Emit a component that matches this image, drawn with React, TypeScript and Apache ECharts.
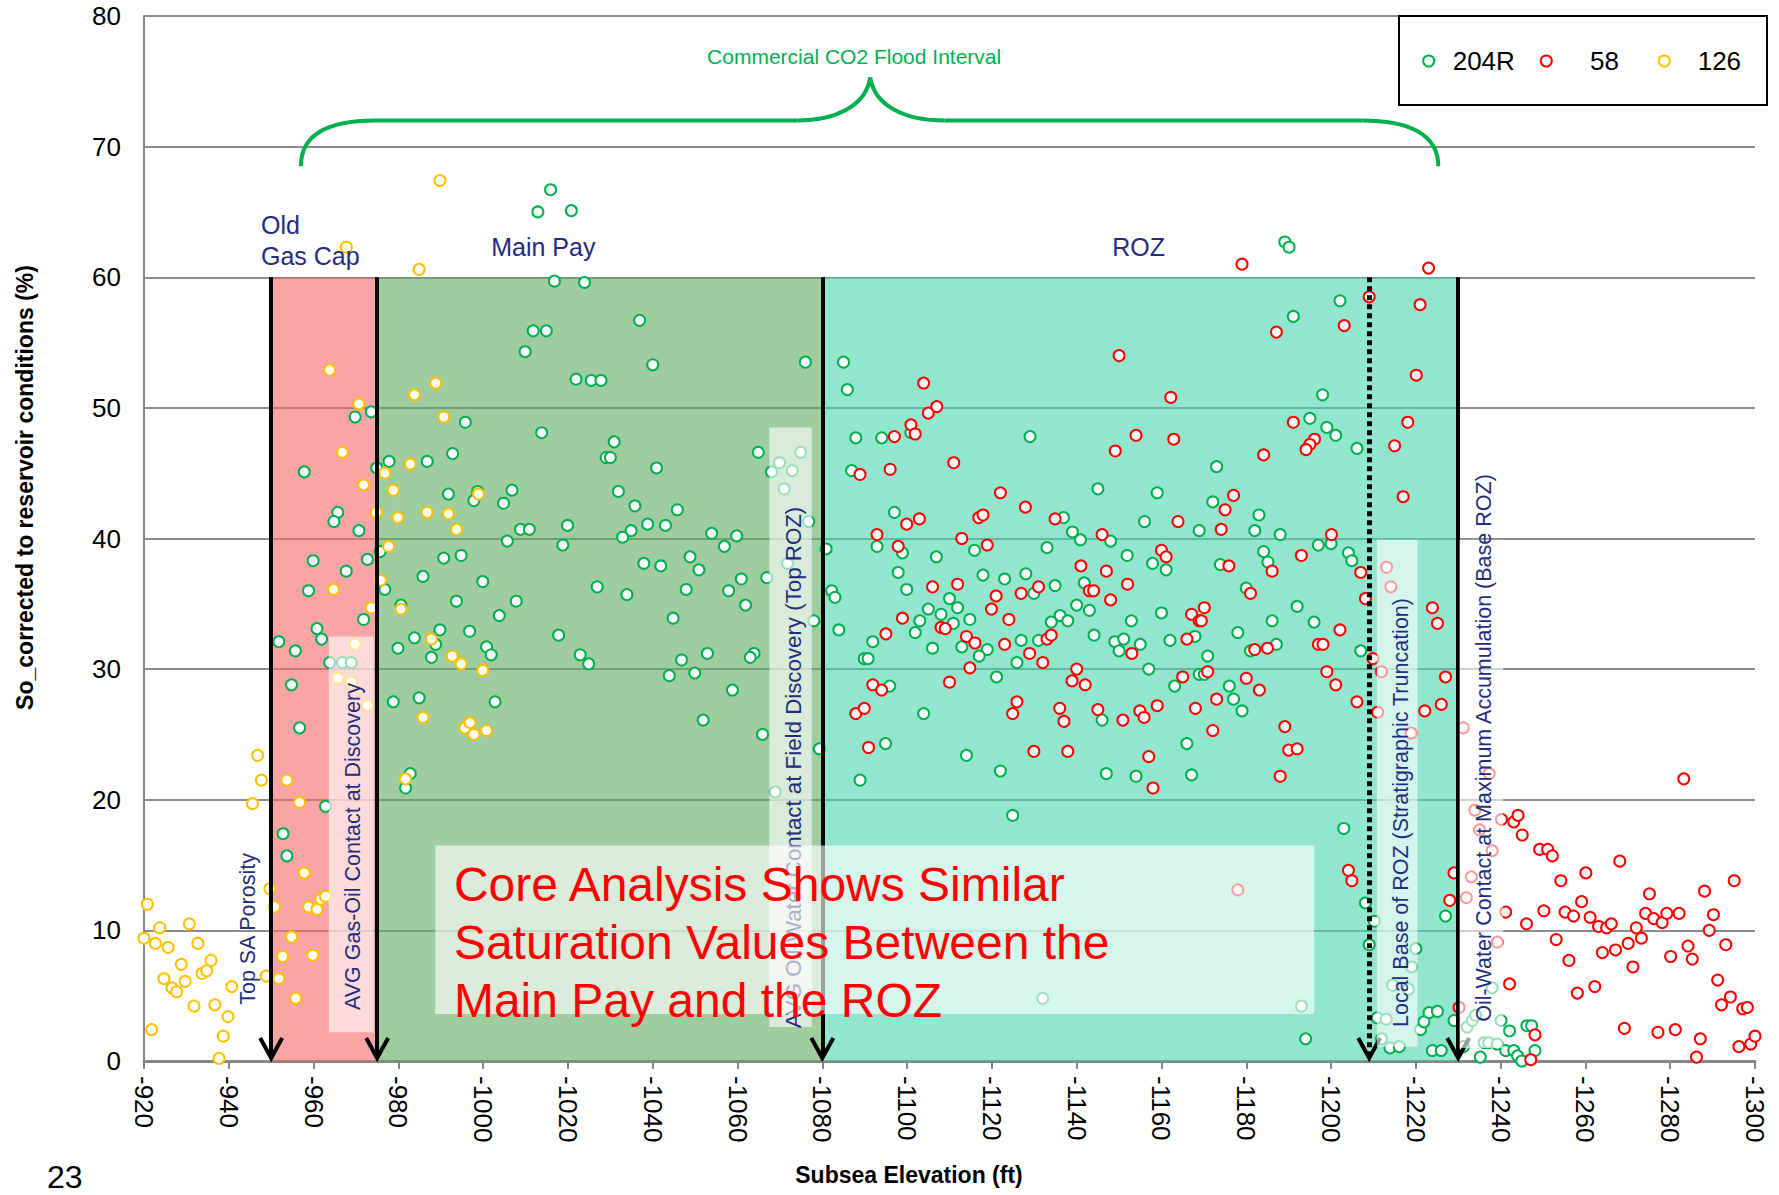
import React, { useEffect, useRef } from "react";
import * as echarts from "echarts";

const FONT = '"Liberation Sans", Arial, Helvetica, sans-serif';
const NAVY = "#232C7D";
const GREEN = "#00B050";

const seriesNames = ["204R", "58", "126"];
const seriesColors = ["#00B050", "#FF0000", "#FFC000"];

// [subsea elevation (ft), So corrected (%)]
const well204R: number[][] = [
  [-1015.9, 66.7], [-1012.9, 65.0], [-1020.8, 65.1], [-1016.8, 59.7], [-1023.9, 59.6], [-1011.8, 55.9], [-1014.9, 55.9],
  [-1009.9, 54.3], [-1021.9, 52.2], [-1025.5, 52.1], [-1027.8, 52.1],
  [-1036.9, 56.7], [-1040.0, 53.3], [-1076.0, 53.5], [-1085.0, 53.5], [-1085.9, 51.4],
  [-1189.1, 62.7], [-1190.1, 62.3], [-1202.1, 58.2], [-1191.1, 57.0], [-1198.0, 51.0],
  [-969.8, 49.3], [-973.6, 49.7], [-995.8, 48.9], [-1013.8, 48.1], [-992.8, 46.5], [-957.8, 45.1], [-974.9, 45.4],
  [-977.8, 45.9], [-986.8, 45.9], [-991.8, 43.4], [-997.8, 42.9], [-998.7, 43.6], [-1004.8, 42.7], [-1006.8, 43.7],
  [-965.7, 42.0], [-964.8, 41.3], [-970.7, 40.6], [-1008.8, 40.7], [-1010.9, 40.7], [-1019.9, 41.0], [-1005.7, 39.8],
  [-1018.8, 39.5], [-975.7, 39.0], [-959.9, 38.3], [-972.7, 38.4], [-990.7, 38.5], [-994.8, 38.7], [-967.7, 37.5],
  [-985.8, 37.1], [-999.9, 36.7], [-1026.9, 36.3], [-958.8, 36.0], [-976.8, 36.1], [-993.7, 35.2], [-1007.8, 35.2],
  [-980.6, 34.9], [-1003.8, 34.1], [-971.8, 33.8], [-960.8, 33.1], [-961.9, 32.3], [-951.8, 32.1], [-955.7, 31.4],
  [-989.8, 33.0], [-996.8, 32.9], [-983.8, 32.4], [-988.8, 31.9], [-979.9, 31.6], [-1000.8, 31.7], [-1001.9, 31.1],
  [-1017.8, 32.6], [-1022.9, 31.1], [-1024.9, 30.4], [-987.8, 30.9], [-963.8, 30.5], [-966.8, 30.5], [-968.9, 30.5],
  [-954.8, 28.8], [-978.8, 27.5], [-984.9, 27.8], [-1002.8, 27.5], [-956.7, 25.5], [-982.8, 22.0], [-981.7, 20.9],
  [-962.8, 19.5], [-952.8, 17.4], [-953.7, 15.7],
  [-1030.9, 47.4], [-1029.0, 46.2], [-1030.0, 46.2], [-1064.9, 46.6], [-1040.9, 45.4], [-1068.0, 45.1], [-1069.9, 45.8],
  [-1072.9, 45.2], [-1074.9, 46.6], [-1071.0, 43.8], [-1031.9, 43.6], [-1035.8, 42.5], [-1045.8, 42.2], [-1038.8, 41.1],
  [-1043.0, 41.0], [-1034.9, 40.6], [-1032.9, 40.1], [-1053.9, 40.4], [-1059.8, 40.2], [-1076.8, 41.3], [-1056.9, 39.4],
  [-1048.8, 38.6], [-1037.9, 38.1], [-1041.9, 37.9], [-1050.9, 37.6], [-1071.8, 38.1], [-1066.9, 37.0], [-1060.9, 36.9],
  [-1080.9, 39.2], [-1033.9, 35.7], [-1047.9, 36.1], [-1057.9, 36.0], [-1061.9, 34.9], [-1044.8, 33.9], [-1078.0, 33.7],
  [-1052.9, 31.2], [-1046.8, 30.7], [-1063.9, 31.2], [-1063.0, 30.9], [-1043.9, 29.5], [-1049.9, 29.7], [-1058.8, 28.4],
  [-1051.9, 26.1], [-1065.9, 25.0], [-1079.3, 23.9], [-1068.9, 20.6],
  [-1087.9, 47.7], [-1094.0, 47.7], [-1100.9, 48.1], [-1129.0, 47.8], [-1086.9, 45.2], [-1145.0, 43.8], [-1159.0, 43.5],
  [-1097.0, 42.0], [-1136.9, 41.6], [-1156.0, 41.3], [-1139.0, 40.5], [-1140.9, 39.9], [-1148.0, 39.8], [-1168.9, 40.6],
  [-1092.9, 39.4], [-1098.9, 38.9], [-1115.9, 39.1], [-1133.0, 39.3], [-1106.9, 38.6], [-1151.9, 38.7], [-1157.9, 38.1],
  [-1161.1, 37.6], [-1097.9, 37.4], [-1117.9, 37.2], [-1128.0, 37.3], [-1123.0, 36.9], [-1134.9, 36.4], [-1141.8, 36.6],
  [-1099.9, 36.1], [-1129.9, 35.8], [-1082.2, 36.0], [-1083.0, 35.5], [-1110.0, 35.4], [-1111.9, 34.7], [-1105.0, 34.6],
  [-1108.0, 34.2], [-1103.0, 33.7], [-1110.9, 33.5], [-1114.8, 33.8], [-1140.0, 34.9], [-1143.0, 34.5], [-1136.1, 34.1],
  [-1134.0, 33.6], [-1137.9, 33.7], [-1160.0, 34.3], [-1152.9, 33.7], [-1083.9, 33.0], [-1091.9, 32.1], [-1101.9, 32.8],
  [-1144.1, 32.6], [-1162.0, 32.2], [-1167.9, 32.5], [-1106.0, 31.6], [-1112.9, 31.7], [-1118.9, 31.5], [-1117.0, 31.0],
  [-1126.9, 32.2], [-1131.0, 32.2], [-1149.0, 32.1], [-1151.1, 32.3], [-1150.0, 31.4], [-1155.0, 31.9], [-1089.9, 30.8],
  [-1090.8, 30.8], [-1125.9, 30.5], [-1157.0, 30.0], [-1121.1, 29.4], [-1168.9, 29.6], [-1095.9, 28.7], [-1163.1, 28.7],
  [-1103.9, 26.6], [-1146.0, 26.1], [-1094.9, 24.3], [-1166.0, 24.3], [-1114.0, 23.4], [-1122.0, 22.2], [-1088.9, 21.5],
  [-1147.0, 22.0], [-1154.0, 21.8], [-1167.1, 21.9],
  [-1195.0, 49.2], [-1199.0, 48.5], [-1201.1, 47.9], [-1206.1, 46.9], [-1173.0, 45.5], [-1172.1, 42.8], [-1183.0, 41.8],
  [-1182.0, 40.6], [-1188.0, 40.3], [-1197.0, 39.5], [-1200.0, 39.6], [-1184.1, 39.0], [-1185.1, 38.2], [-1204.1, 38.9],
  [-1204.9, 38.3], [-1173.9, 38.0], [-1180.0, 36.2], [-1192.0, 34.8], [-1186.1, 33.7], [-1196.0, 33.6], [-1178.0, 32.8],
  [-1187.1, 31.9], [-1181.0, 31.4], [-1170.9, 31.0], [-1207.0, 31.4], [-1170.1, 29.6], [-1176.0, 28.7], [-1177.0, 27.7],
  [-1179.0, 26.8],
  [-1203.0, 17.8], [-1208.1, 12.1], [-1210.2, 10.7], [-1209.0, 8.9], [-1227.0, 11.1], [-1220.0, 8.6], [-1219.0, 7.2],
  [-1218.2, 5.5], [-1214.5, 5.8], [-1238.0, 5.6], [-1193.0, 4.2], [-1194.0, 1.7], [-1210.9, 3.3], [-1213.0, 3.2],
  [-1211.9, 1.7], [-1213.9, 1.0], [-1216.1, 1.1], [-1221.1, 2.4], [-1221.9, 3.0], [-1223.1, 3.7], [-1225.1, 3.8],
  [-1223.9, 0.8], [-1226.0, 0.8], [-1229.0, 3.1], [-1231.2, 1.1], [-1232.1, 2.6], [-1233.3, 3.1], [-1234.1, 3.5],
  [-1235.2, 0.3], [-1236.1, 1.4], [-1237.2, 1.4], [-1239.2, 1.3], [-1240.1, 3.1], [-1241.2, 0.8], [-1243.1, 0.8],
  [-1242.1, 2.3], [-1244.0, 0.4], [-1245.0, 0.0], [-1246.2, 2.7], [-1247.3, 2.7], [-1248.1, 0.8],
  [-1124.9, 18.8], [-1132.0, 4.8],
];

const well58: number[][] = [
  [-1103.9, 51.9], [-1150.0, 54.0], [-1162.2, 50.8],
  [-1179.0, 61.0], [-1223.0, 60.7], [-1209.0, 58.5], [-1221.0, 57.9], [-1187.1, 55.8], [-1203.1, 56.3], [-1220.1, 52.5],
  [-1105.0, 49.6], [-1107.0, 50.1], [-1100.9, 48.7], [-1101.9, 48.0], [-1097.0, 47.8], [-1154.0, 47.9], [-1162.9, 47.6],
  [-1149.1, 46.7], [-1111.0, 45.8], [-1096.0, 45.3], [-1088.9, 44.9], [-1122.0, 43.5], [-1127.9, 42.4], [-1099.9, 41.1],
  [-1102.9, 41.5], [-1116.9, 41.6], [-1117.9, 41.8], [-1134.9, 41.5], [-1163.9, 41.3], [-1092.9, 40.3], [-1112.9, 40.0],
  [-1118.9, 39.5], [-1146.0, 40.3], [-1097.9, 39.4], [-1160.0, 39.1], [-1161.1, 38.6], [-1141.0, 37.9], [-1147.0, 37.5],
  [-1106.0, 36.3], [-1111.9, 36.5], [-1131.0, 36.3], [-1126.9, 35.8], [-1121.0, 35.6], [-1143.0, 36.0], [-1144.0, 36.0],
  [-1152.0, 36.5], [-1148.0, 35.3], [-1119.9, 34.6], [-1098.9, 33.9], [-1124.0, 33.8], [-1108.0, 33.2], [-1109.0, 33.1],
  [-1167.1, 34.2], [-1168.9, 33.7], [-1095.0, 32.7], [-1114.0, 32.5], [-1116.0, 32.0], [-1123.0, 31.9], [-1133.0, 32.3],
  [-1134.0, 32.6], [-1166.0, 32.3], [-1128.9, 31.2], [-1132.0, 30.5], [-1153.0, 31.2], [-1114.8, 30.1], [-1140.0, 30.0],
  [-1138.9, 29.1], [-1142.0, 28.8], [-1165.0, 29.4], [-1110.0, 29.0], [-1091.9, 28.8], [-1094.0, 28.4], [-1125.9, 27.5],
  [-1124.9, 26.6], [-1136.0, 27.0], [-1137.0, 26.0], [-1145.0, 26.9], [-1150.9, 26.1], [-1154.9, 26.8], [-1155.9, 26.3],
  [-1159.0, 27.2], [-1168.0, 27.0], [-1087.9, 26.6], [-1089.9, 27.0], [-1090.9, 24.0], [-1129.9, 23.7], [-1137.9, 23.7],
  [-1157.0, 23.3], [-1158.0, 20.9],
  [-1191.1, 48.9], [-1218.1, 48.9], [-1196.1, 47.6], [-1195.0, 47.2], [-1194.1, 46.8], [-1215.0, 47.1], [-1184.1, 46.4],
  [-1177.0, 43.3], [-1175.0, 42.2], [-1217.0, 43.2], [-1174.1, 40.7], [-1200.1, 40.3], [-1193.0, 38.7], [-1175.9, 37.9],
  [-1186.1, 37.5], [-1207.0, 37.4], [-1181.0, 35.8], [-1208.1, 35.4], [-1170.1, 34.7], [-1169.4, 33.7], [-1202.1, 33.0],
  [-1223.9, 34.7], [-1225.1, 33.5], [-1182.0, 31.5], [-1185.0, 31.6], [-1197.0, 31.9], [-1198.1, 31.9], [-1209.9, 30.8],
  [-1170.9, 29.8], [-1199.0, 29.8], [-1180.0, 29.3], [-1201.1, 28.8], [-1183.1, 28.4], [-1173.0, 27.7], [-1206.1, 27.5],
  [-1227.0, 29.4], [-1226.0, 27.3], [-1222.1, 26.8], [-1172.1, 25.3], [-1189.1, 25.6], [-1190.0, 23.8], [-1192.0, 23.9],
  [-1188.0, 21.8], [-1283.2, 21.6], [-1213.1, 37.8], [-1214.1, 36.3], [-1211.9, 29.8], [-1211.0, 26.7], [-1218.9, 25.1],
  [-1231.2, 25.5], [-1237.3, 22.0],
  [-1240.2, 18.5], [-1243.1, 18.3], [-1244.1, 18.8], [-1245.1, 17.3], [-1249.2, 16.2], [-1251.1, 16.2], [-1252.2, 15.7],
  [-1268.1, 15.3], [-1254.2, 13.8], [-1260.1, 14.4], [-1275.1, 12.8], [-1288.1, 13.0], [-1295.1, 13.8], [-1241.2, 11.4],
  [-1246.1, 10.5], [-1250.2, 11.5], [-1255.2, 11.4], [-1257.2, 11.1], [-1259.1, 12.2], [-1261.1, 11.0], [-1263.1, 10.3],
  [-1265.0, 10.2], [-1266.1, 10.5], [-1272.0, 10.2], [-1273.2, 9.4], [-1274.2, 11.3], [-1276.1, 10.9], [-1278.1, 10.6],
  [-1279.2, 11.3], [-1282.1, 11.3], [-1253.1, 9.3], [-1264.0, 8.3], [-1267.1, 8.5], [-1270.1, 9.0], [-1256.1, 7.7],
  [-1271.2, 7.2], [-1280.1, 8.0], [-1284.2, 8.8], [-1285.2, 7.8], [-1290.2, 11.2], [-1289.2, 10.0], [-1293.1, 8.9],
  [-1291.2, 6.2], [-1258.1, 5.2], [-1262.2, 5.7], [-1242.1, 5.9], [-1292.1, 4.3], [-1294.2, 4.9], [-1297.1, 4.0],
  [-1298.2, 4.1], [-1269.2, 2.5], [-1277.1, 2.2], [-1281.2, 2.4], [-1287.1, 1.7], [-1286.2, 0.3], [-1296.2, 1.1],
  [-1299.0, 1.3], [-1300.0, 1.9], [-1248.1, 2.0], [-1247.1, 0.1], [-1204.1, 14.6], [-1204.9, 13.8], [-1229.0, 14.4],
  [-1228.0, 12.3], [-1230.2, 4.1], [-1233.9, 19.2], [-1235.0, 17.7], [-1238.0, 16.1], [-1233.1, 14.1], [-1231.9, 12.5],
  [-1239.2, 9.1], [-1178.0, 13.1],
];

const well126: number[][] = [
  [-989.8, 67.4], [-967.7, 62.3], [-984.9, 60.6], [-963.8, 52.9], [-988.8, 51.9], [-983.8, 51.0],
  [-970.7, 50.3], [-990.7, 49.3], [-966.8, 46.6], [-976.8, 45.0], [-982.8, 45.7], [-971.8, 44.1], [-978.8, 43.7],
  [-998.9, 43.4], [-974.8, 42.0], [-979.9, 41.6], [-986.8, 42.0], [-991.8, 41.9], [-993.7, 40.7], [-977.7, 39.4],
  [-975.8, 36.8], [-964.7, 36.1], [-980.6, 34.6], [-973.6, 34.7], [-969.8, 31.9], [-987.8, 32.3], [-992.7, 31.0],
  [-994.8, 30.4], [-999.9, 29.9], [-965.7, 29.3], [-968.9, 29.0], [-972.7, 27.2], [-985.8, 26.3], [-995.7, 25.5],
  [-996.9, 25.9], [-997.8, 25.0], [-1000.8, 25.3], [-946.8, 23.4], [-947.7, 21.5], [-953.7, 21.5], [-981.7, 21.6],
  [-945.6, 19.7], [-956.7, 19.8], [-957.8, 14.4], [-949.7, 13.2], [-950.8, 11.8], [-958.8, 11.8], [-960.8, 11.6],
  [-961.7, 12.4], [-962.8, 12.6], [-920.8, 12.0], [-923.7, 10.2], [-930.7, 10.5], [-920.0, 9.4], [-922.7, 9.0],
  [-925.7, 8.7], [-932.7, 9.0], [-954.8, 9.5], [-952.7, 8.0], [-959.8, 8.1], [-928.8, 7.4], [-935.8, 7.7],
  [-924.7, 6.3], [-929.7, 6.1], [-933.7, 6.7], [-934.8, 6.9], [-926.6, 5.6], [-927.7, 5.3], [-940.7, 5.7],
  [-948.8, 6.5], [-951.8, 6.3], [-931.8, 4.2], [-936.7, 4.3], [-955.8, 4.8], [-939.8, 3.4], [-921.8, 2.4],
  [-938.7, 1.9], [-937.7, 0.2],
];

const wellData = [well204R, well58, well126];

// Zone annotations (axis values)
const zoneTop = 60;
const zones = [
  { from: -950, to: -975, color: "rgba(247,105,105,0.6)" },
  { from: -975, to: -1080, color: "rgba(97,172,97,0.6)" },
  { from: -1080, to: -1230, color: "rgba(72,213,172,0.6)" },
];
const solidMarkers = [-950, -975, -1080, -1230];
const dottedMarker = -1209;

const verticalNotes = [
  { text: "Top SA Porosity", x: -944.5, y: 4.3, size: 21.5 },
  { text: "AVG Gas-Oil Contact at Discovery", x: -969.3, y: 3.9, size: 21.5 },
  { text: "AVG Oil-Water Contact at Field Discovery (Top ROZ)", x: -1073.2, y: 2.5, size: 22.3 },
  { text: "Local Base of ROZ (Stratigraphic Truncation)", x: -1216.4, y: 2.6, size: 21.5 },
  { text: "Oil-Water Contact at Maximum Accumulation (Base ROZ)", x: -1236.1, y: 3.0, size: 21.5 },
];
const noteBoxes = [
  [-963.6, -974.2, 2.2, 32.5],
  [-1067.5, -1077.5, 2.6, 48.5],
  [-1210.8, -1220.4, 1.1, 39.9],
  [-1230.3, -1240.6, 1.0, 39.9],
];
const coreBox = [-988.7, -1196.0, 3.6, 16.5];
const coreLines = [
  { text: "Core Analysis Shows Similar", y: 13.5 },
  { text: "Saturation Values Between the", y: 9.1 },
  { text: "Main Pay and the ROZ", y: 4.6 },
];
const coreTextX = -993.1;
const zoneLabels = [
  { text: "Old", x: -947.6, y: 64.0 },
  { text: "Gas Cap", x: -947.6, y: 61.6 },
  { text: "Main Pay", x: -1001.9, y: 62.3 },
  { text: "ROZ", x: -1148.4, y: 62.3 },
];

// legend layout (pixels)
const legendSlots = [
  { left: 1422.2, width: 38 },
  { left: 1539.8, width: 77.4 },
  { left: 1657.8, width: 56.8 },
];

export default function App() {
  const ref = useRef<HTMLDivElement>(null);

  useEffect(() => {
    document.body.style.margin = "0";
    if (!ref.current) return;
    const chart = echarts.init(ref.current, undefined, { renderer: "svg" });

    const scatterSeries = seriesNames.map((name, i) => ({
      name,
      type: "scatter",
      data: wellData[i],
      symbol: "circle",
      symbolSize: 11,
      clip: false,
      z: 3,
      itemStyle: { color: "#fff", borderColor: seriesColors[i], borderWidth: 2, opacity: 1 },
      emphasis: { disabled: true },
    }));

    const legends = seriesNames.map((name, i) => ({
      data: [name],
      left: legendSlots[i].left,
      top: 48,
      orient: "horizontal",
      itemWidth: legendSlots[i].width,
      itemHeight: 11,
      padding: 0,
      selectedMode: false,
      z: 6,
      textStyle: { fontSize: 26, color: "#000", fontFamily: FONT },
    }));

    const option: any = {
      animation: false,
      backgroundColor: "#fff",
      textStyle: { fontFamily: FONT },
      grid: { left: 144, right: 24, top: 16, bottom: 134, containLabel: false },
      legend: legends,
      xAxis: {
        type: "value",
        min: -1300,
        max: -920,
        interval: 20,
        inverse: true,
        name: "Subsea Elevation (ft)",
        nameLocation: "middle",
        nameGap: 102,
        nameTextStyle: { fontFamily: FONT, fontSize: 23, fontWeight: "bold", color: "#000", padding: [0, 81, 0, 0] },
        axisLine: { show: true, onZero: false, lineStyle: { color: "#868686", width: 3 } },
        axisTick: { show: true, length: 8, lineStyle: { color: "#868686", width: 2 } },
        axisLabel: {
          rotate: -90,
          fontSize: 26,
          color: "#000",
          margin: 15,
          fontFamily: FONT,
          formatter: (v: number) => String(v),
        },
        splitLine: { show: false },
      },
      yAxis: {
        type: "value",
        min: 0,
        max: 80,
        interval: 10,
        name: "So_corrected to reservoir conditions (%)",
        nameLocation: "middle",
        nameGap: 108,
        nameTextStyle: { fontFamily: FONT, fontSize: 23, fontWeight: "bold", color: "#000", padding: [0, 0, 0, 102] },
        axisLine: { show: true, onZero: false, lineStyle: { color: "#868686", width: 2 } },
        axisTick: { show: false },
        axisLabel: { fontSize: 26, color: "#000", margin: 23, fontFamily: FONT },
        splitLine: { show: true, lineStyle: { color: "#8c8c8c", width: 2 } },
      },
      series: [
        {
          name: "zones",
          type: "scatter",
          data: [],
          silent: true,
          z: 1,
          markArea: {
            silent: true,
            z: 1,
            label: { show: false },
            data: zones.map((zn) => [
              { xAxis: zn.from, yAxis: 0, itemStyle: { color: zn.color, borderWidth: 0 } },
              { xAxis: zn.to, yAxis: zoneTop },
            ]),
          },
          markLine: {
            silent: true,
            symbol: ["none", "none"],
            label: { show: false },
            data: [
              ...solidMarkers.map((x) => [
                { coord: [x, zoneTop], lineStyle: { color: "#000", width: 4, type: "solid" } },
                { coord: [x, 0.25] },
              ]),
              [
                { coord: [dottedMarker, zoneTop], lineStyle: { color: "#000", width: 5, type: [5, 4] } },
                { coord: [dottedMarker, 0.25] },
              ],
            ],
          },
        },
        ...scatterSeries,
      ],
    };

    chart.setOption(option);

    const p = (x: number, y: number) => chart.convertToPixel({ gridIndex: 0 }, [x, y]) as number[];
    const rectOf = (xa: number, xb: number, ya: number, yb: number) => {
      const a = p(xa, ya);
      const b = p(xb, yb);
      return {
        x: Math.min(a[0], b[0]),
        y: Math.min(a[1], b[1]),
        width: Math.abs(a[0] - b[0]),
        height: Math.abs(a[1] - b[1]),
      };
    };

    const elements: any[] = [];

    // legend frame
    elements.push({
      type: "rect",
      z: 4,
      silent: true,
      shape: { x: 1399, y: 16, width: 368, height: 89 },
      style: { fill: "#fff", stroke: "#000", lineWidth: 2 },
    });

    noteBoxes.forEach((b) => {
      elements.push({ type: "rect", z: 10, silent: true, shape: rectOf(b[0], b[1], b[2], b[3]), style: { fill: "rgba(255,255,255,0.6)" } });
    });
    verticalNotes.forEach((n) => {
      const q = p(n.x, n.y);
      elements.push({
        type: "text",
        z: 11,
        x: q[0],
        y: q[1],
        rotation: Math.PI / 2,
        style: { text: n.text, fontSize: n.size, fontFamily: FONT, fill: NAVY, align: "left", verticalAlign: "middle" },
      });
    });
    elements.push({
      type: "rect",
      z: 12,
      silent: true,
      shape: rectOf(coreBox[0], coreBox[1], coreBox[2], coreBox[3]),
      style: { fill: "rgba(255,255,255,0.62)" },
    });
    coreLines.forEach((l) => {
      const q = p(coreTextX, l.y);
      elements.push({
        type: "text",
        z: 13,
        x: q[0],
        y: q[1],
        style: { text: l.text, fontSize: 48, fontFamily: FONT, fill: "#FF0000", align: "left", verticalAlign: "middle" },
      });
    });
    zoneLabels.forEach((l) => {
      const q = p(l.x, l.y);
      elements.push({
        type: "text",
        z: 11,
        x: q[0],
        y: q[1],
        style: { text: l.text, fontSize: 25, fontFamily: FONT, fill: NAVY, align: "left", verticalAlign: "middle" },
      });
    });
    {
      const q = p(-1087.5, 76.9);
      elements.push({
        type: "text",
        z: 11,
        x: q[0],
        y: q[1],
        style: { text: "Commercial CO2 Flood Interval", fontSize: 21, fontFamily: FONT, fill: GREEN, align: "center", verticalAlign: "middle" },
      });
    }
    // curly brace
    const braceStyle = { stroke: GREEN, lineWidth: 4, fill: null, lineCap: "butt" };
    const bez = (a: number[], c1: number[], c2: number[], b: number[]) => {
      const A = p(a[0], a[1]), C1 = p(c1[0], c1[1]), C2 = p(c2[0], c2[1]), B = p(b[0], b[1]);
      return {
        type: "bezierCurve",
        z: 10,
        silent: true,
        shape: { x1: A[0], y1: A[1], cpx1: C1[0], cpy1: C1[1], cpx2: C2[0], cpy2: C2[1], x2: B[0], y2: B[1] },
        style: braceStyle,
      };
    };
    const seg = (a: number[], b: number[]) => {
      const A = p(a[0], a[1]), B = p(b[0], b[1]);
      return { type: "line", z: 10, silent: true, shape: { x1: A[0], y1: A[1], x2: B[0], y2: B[1] }, style: braceStyle };
    };
    elements.push(bez([-957.0, 68.5], [-957.0, 71.0], [-963.8, 72.0], [-974.5, 72.0]));
    elements.push(seg([-974.5, 72.0], [-1074.1, 72.0]));
    elements.push(bez([-1074.1, 72.0], [-1083.0, 72.0], [-1090.3, 73.1], [-1091.3, 75.3]));
    elements.push(bez([-1091.3, 75.3], [-1092.3, 73.1], [-1099.6, 72.0], [-1108.8, 72.0]));
    elements.push(seg([-1108.8, 72.0], [-1207.4, 72.0]));
    elements.push(bez([-1207.4, 72.0], [-1218.0, 72.0], [-1225.3, 71.0], [-1225.3, 68.5]));

    // arrow heads
    [...solidMarkers, dottedMarker].forEach((x) => {
      const q = p(x, 0);
      const tipY = q[1] - 3;
      elements.push({
        type: "polyline",
        z: 6,
        silent: true,
        shape: { points: [[q[0] - 11, tipY - 20], [q[0], tipY], [q[0] + 11, tipY - 20]] },
        style: { stroke: "#000", lineWidth: 4, fill: null, lineJoin: "miter" },
      });
    });

    elements.push({
      type: "text",
      z: 11,
      x: 47,
      y: 1177,
      style: { text: "23", fontSize: 32, fontFamily: FONT, fill: "#000", align: "left", verticalAlign: "middle" },
    });

    chart.setOption({ graphic: elements });

    return () => {
      chart.dispose();
    };
  }, []);

  return <div ref={ref} style={{ width: 1779, height: 1195 }} />;
}
